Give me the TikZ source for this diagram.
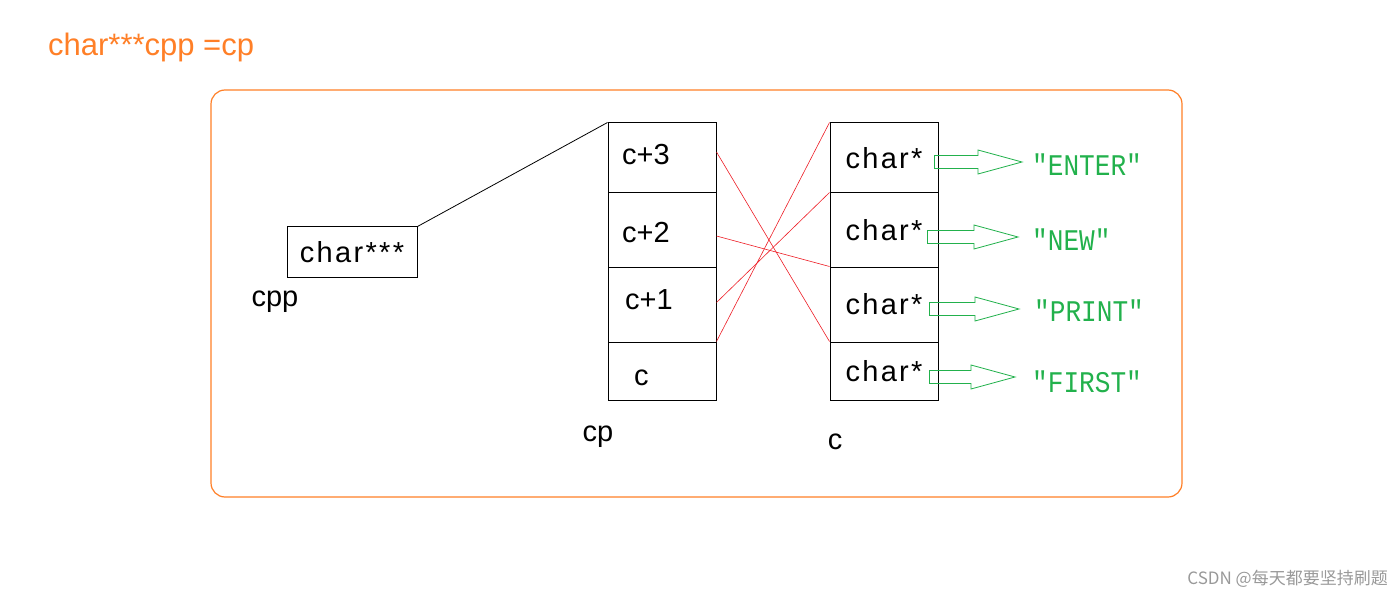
\documentclass[tikz,border=0pt]{standalone}
\usepackage{fontspec}
\setmainfont{Liberation Sans}
\newfontfamily\widefont[LetterSpace=8]{Liberation Sans}
\newfontfamily\strfont[FakeStretch=0.87]{Liberation Mono}
\newfontfamily\cjkfont{Noto Sans CJK SC}
\usepackage{xcolor}
\usetikzlibrary{calc}
\definecolor{paintorange}{RGB}{255,127,39}
\definecolor{paintgreen}{RGB}{34,177,76}
\definecolor{paintred}{RGB}{237,28,36}
% hollow block arrow from a cell to its string
\newcommand{\hollowarrow}[2]{%
  \draw[arrowline] let \p1=(#1), \p2=(#2) in
    (\x1,\y2+6.5pt) -- (\x2-44pt,\y2+6.5pt) -- (\x2-44pt,\y2+12pt) -- (\x2,\y2)
    -- (\x2-44pt,\y2-12pt) -- (\x2-44pt,\y2-6.5pt) -- (\x1,\y2-6.5pt) -- cycle;}

\begin{document}
\begin{tikzpicture}[x=1pt,y=-1pt,
    txt/.style={font=\fontsize{29}{32}\selectfont, inner sep=0pt},
    cell/.style={draw, line width=1pt, minimum width=108pt, inner sep=0pt,
                 font=\widefont\fontsize{29}{32}\selectfont},
    str/.style={font=\strfont\fontsize{30}{32}\selectfont, text=paintgreen,
                inner sep=0pt, anchor=west},
    pointer/.style={draw=paintred, line width=0.6pt},
    arrowline/.style={draw=paintgreen, line width=0.8pt}]
\useasboundingbox (0,0) rectangle (1400,596);

\node[anchor=base west, inner sep=0pt, text=paintorange,
      font=\fontsize{31}{34}\selectfont] (title) at (48,56) {char***cpp =cp};
\draw[paintorange, line width=1.2pt, rounded corners=14pt] (211,90) rectangle (1182,497);

% cpp
\node[cell, minimum width=130pt, minimum height=50pt] (cpp) at (352,252) {char***};
\node[txt] (cpplabel) at (275,302) {cpp};

% cp
\node[cell, minimum height=70pt] (p3) at (662,158) {};
\node[cell, minimum height=74pt] (p2) at (662,230) {};
\node[cell, minimum height=75pt] (p1) at (662,304.5) {};
\node[cell, minimum height=58pt] (p0) at (662,371) {};
\node[txt, anchor=west] (l3) at (622,155) {c+3};
\node[txt, anchor=west] (l2) at (622,233) {c+2};
\node[txt, anchor=west] (l1) at (625,300) {c+1};
\node[txt, anchor=west] (l0) at (634,378) {c};
\node[txt] (cplabel) at (598,437) {cp};

% c
\node[cell, minimum height=70pt] (s0) at (884,158) {char*};
\node[cell, minimum height=74pt] (s1) at (884,230) {char*};
\node[cell, minimum height=75pt] (s2) at (884,304.5) {char*};
\node[cell, minimum height=58pt] (s3) at (884,371) {char*};
\node[txt] (clabel) at (835,442) {c};

\draw[line width=0.8pt] (cpp.north east) -- (p3.north west);

\draw[pointer] ([yshift=6pt]p3.east) -- (s3.north west);
\draw[pointer] ([yshift=-6pt]p2.east) -- (s2.north west);
\draw[pointer] ([yshift=2pt]p1.east) -- (s1.north west);
\draw[pointer] (p0.north east) -- (s0.north west);

% strings
\node[str] (e0) at (1032,165) {"ENTER"};
\node[str] (e1) at (1032,240) {"NEW"};
\node[str] (e2) at (1034,311) {"PRINT"};
\node[str] (e3) at (1032,382) {"FIRST"};

\hollowarrow{[xshift=-4pt]s0.east}{[shift={(-10pt,3pt)}]e0.west}
\hollowarrow{[xshift=-11pt]s1.east}{[shift={(-14pt,3pt)}]e1.west}
\hollowarrow{[xshift=-9pt]s2.east}{[shift={(-15pt,2pt)}]e2.west}
\hollowarrow{[xshift=-9pt]s3.east}{[shift={(-17pt,5pt)}]e3.west}

\node[anchor=east, inner sep=0pt, text=black!40,
      font=\cjkfont\fontsize{17}{20}\selectfont] (mark) at (1388,579) {CSDN @每天都要坚持刷题};
\end{tikzpicture}
\end{document}
